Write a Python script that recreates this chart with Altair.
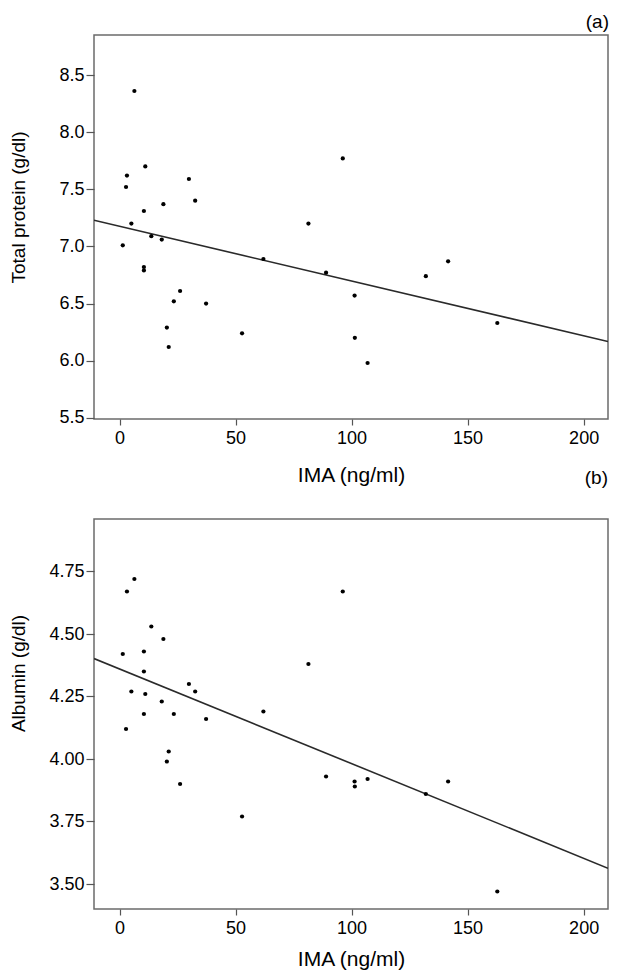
import altair as alt
import pandas as pd

# IMA (ng/ml) values, shared by both panels
ima = [1.4, 2.8, 3.2, 5.1, 6.4, 10.5, 10.5, 10.5, 11.1, 13.7, 18.2, 18.9, 20.4, 21.2, 23.4,
       26.1, 29.9, 32.6, 37.3, 52.8, 62.0, 81.4, 89.0, 96.2, 101.3, 101.4, 106.9, 132.0, 141.6, 162.8]
# Total protein (g/dl), panel (a)
total_protein = [7.01, 7.52, 7.62, 7.20, 8.36, 7.31, 6.82, 6.79, 7.70, 7.09, 7.06, 7.37, 6.29, 6.12, 6.52,
                 6.61, 7.59, 7.40, 6.50, 6.24, 6.89, 7.20, 6.77, 7.77, 6.57, 6.20, 5.98, 6.74, 6.87, 6.33]
# Albumin (g/dl), panel (b)
albumin = [4.42, 4.12, 4.67, 4.27, 4.72, 4.43, 4.35, 4.18, 4.26, 4.53, 4.23, 4.48, 3.99, 4.03, 4.18,
           3.90, 4.30, 4.27, 4.16, 3.77, 4.19, 4.38, 3.93, 4.67, 3.91, 3.89, 3.92, 3.86, 3.91, 3.47]

x_ticks = [0, 50, 100, 150, 200]
tp_ticks = [5.5, 6.0, 6.5, 7.0, 7.5, 8.0, 8.5]
alb_ticks = [3.50, 3.75, 4.00, 4.25, 4.50, 4.75]
panel_labels = ["(a)", "(b)"]

df = pd.DataFrame({"ima": ima, "tp": total_protein, "alb": albumin})

FONT = "Liberation Sans"
X_DOMAIN = [-11, 210.5]
W = 514
H_TOP = 384
H_BOT = 390


def panel(field, ytitle, ydomain, yticks, yfmt, title_y, label_pad, title_pad):
    x = alt.X(
        "ima:Q",
        scale=alt.Scale(domain=X_DOMAIN, nice=False, zero=False),
        axis=alt.Axis(values=x_ticks, title="IMA (ng/ml)", tickSize=6, labelPadding=label_pad,
                      titlePadding=title_pad, titleFontSize=21, format="d"),
    )
    y = alt.Y(
        f"{field}:Q",
        scale=alt.Scale(domain=ydomain, nice=False, zero=False),
        axis=alt.Axis(values=yticks, format=yfmt, title=ytitle, tickSize=8, labelPadding=2,
                      titleFontSize=19, titleX=-76, titleY=title_y,
                      titleBaseline="middle", titleAlign="center"),
    )
    pts = alt.Chart(df).mark_circle(size=18, color="black", opacity=1).encode(x=x, y=y)
    line = (
        alt.Chart(df)
        .transform_regression("ima", field, extent=X_DOMAIN)
        .mark_line(color="#2a2a2a", strokeWidth=1.6, clip=True)
        .encode(x=x, y=y)
    )
    return line, pts


line_a, pts_a = panel("tp", "Total protein (g/dl)", [5.49, 8.85], tp_ticks, ".1f", 172, 4, 17)
line_b, pts_b = panel("alb", "Albumin (g/dl)", [3.40, 4.96], alb_ticks, ".2f", 154, 4, 11)

lab_df = pd.DataFrame({"label": panel_labels})
lab_a = (
    alt.Chart(lab_df)
    .transform_filter(alt.datum.label == panel_labels[0])
    .mark_text(align="right", baseline="middle", fontSize=19, font=FONT, color="black")
    .encode(text="label:N", x=alt.value(W + 1), y=alt.value(-13))
)
lab_b = (
    alt.Chart(lab_df)
    .transform_filter(alt.datum.label == panel_labels[1])
    .mark_text(align="right", baseline="middle", fontSize=19, font=FONT, color="black")
    .encode(text="label:N", x=alt.value(W), y=alt.value(H_TOP + 59))
)

top = alt.layer(line_a, pts_a, lab_a, lab_b).properties(width=W, height=H_TOP)
bottom = alt.layer(line_b, pts_b).properties(width=W, height=H_BOT)

chart = (
    alt.vconcat(top, bottom, spacing=29)
    .properties(padding={"top": 4, "left": 0, "right": 0, "bottom": 0}, background="white")
    .configure_view(stroke="#6b6b6b", strokeWidth=1.5)
    .configure_axis(
        grid=False,
        domain=False,
        labelFont=FONT,
        titleFont=FONT,
        labelFontSize=18,
        labelColor="black",
        titleColor="black",
        titleFontWeight="normal",
        tickColor="#555555",
        tickWidth=1.2,
    )
)

chart.save("out.html", embed_options={"renderer": "svg", "actions": False})
